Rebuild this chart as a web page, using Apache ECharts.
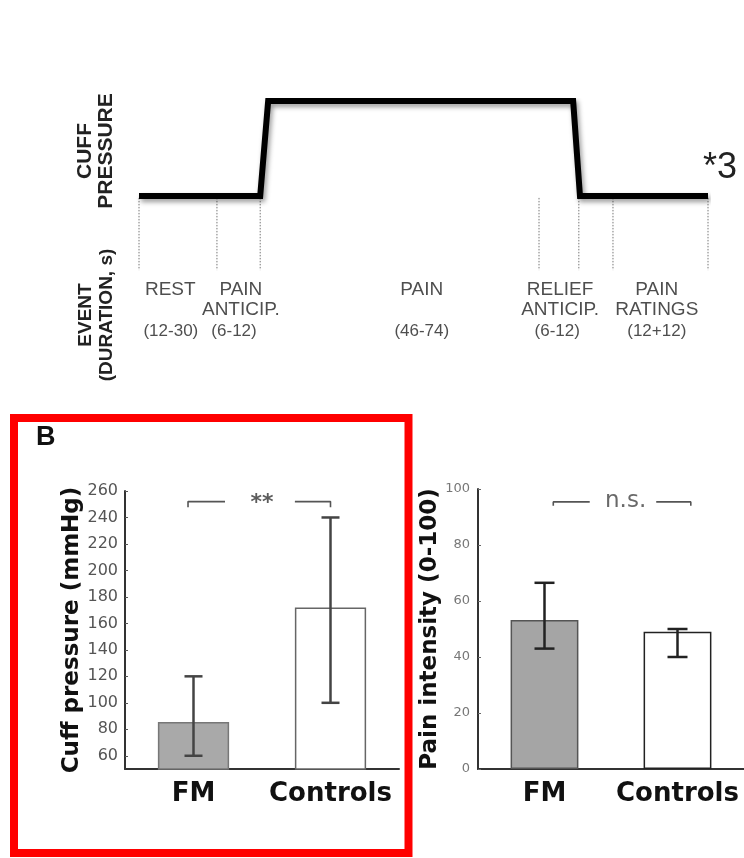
<!DOCTYPE html>
<html><head><meta charset="utf-8">
<script src="https://cdn.jsdelivr.net/npm/echarts@6/dist/echarts.min.js"></script>
<style>html,body{margin:0;padding:0;background:#fff}#c{width:744px;height:858px}</style>
</head><body><div id="c"></div>
<script>
// ---- Panel A: schematic cuff-pressure protocol (schematic time units 0-100, pressure low=0 / high=1)
const stepX = [0, 21.3, 22.7, 76.3, 77.5, 100];
const stepY = [0, 0, 1, 1, 0, 0];
const eventBoundaries = [0, 13.7, 21.3, 70.3, 77.3, 83.3, 100];
const eventNames = ['REST\n ', 'PAIN\nANTICIP.', 'PAIN\n ', 'RELIEF\nANTICIP.', 'PAIN\nRATINGS'];
const eventNameX = [5.5, 17.9, 49.7, 74.0, 91.0];
const eventDurations = ['(12-30)', '(6-12)', '(46-74)', '(6-12)', '(12+12)'];
const eventDurationX = [5.6, 16.7, 49.7, 73.5, 91.0];

// ---- Panel B
const groups = ['FM', 'Controls'];
const cuffMean = [85.5, 172];
const cuffLow = [60, 100];
const cuffHigh = [120, 240];
const cuffTicks = [60, 80, 100, 120, 140, 160, 180, 200, 220, 240, 260];
const painMean = [53.2, 49];
const painLow = [43, 40];
const painHigh = [66.5, 50];
const painTicks = [0, 20, 40, 60, 80, 100];

const DJ = 'DejaVu Sans';
const LS = 'Liberation Sans, Arial, sans-serif';

function errorBar(xi, yi, low, high, color, cap) {
  return {
    type: 'custom', xAxisIndex: xi, yAxisIndex: yi, z: 5, silent: true,
    data: low.map((l, i) => [i, l, high[i]]),
    encode: { x: 0, y: [1, 2] },
    renderItem(params, api) {
      const lo = api.coord([api.value(0), api.value(1)]);
      const hi = api.coord([api.value(0), api.value(2)]);
      const h = cap / 2;
      const style = { stroke: color, lineWidth: 2.5, fill: null };
      return { type: 'group', children: [
        { type: 'line', shape: { x1: lo[0], y1: lo[1], x2: hi[0], y2: hi[1] }, style },
        { type: 'line', shape: { x1: lo[0] - h, y1: lo[1], x2: lo[0] + h, y2: lo[1] }, style },
        { type: 'line', shape: { x1: hi[0] - h, y1: hi[1], x2: hi[0] + h, y2: hi[1] }, style }
      ]};
    }
  };
}
function seg(xi, yi, pts, color) {
  return { type: 'line', xAxisIndex: xi, yAxisIndex: yi, data: pts, symbol: 'none', silent: true,
    lineStyle: { color, width: 1.6 }, z: 4 };
}
function textPoint(xi, yi, pts, labelStyle) {
  return { type: 'scatter', xAxisIndex: xi, yAxisIndex: yi, symbolSize: 1, silent: true,
    itemStyle: { color: 'rgba(0,0,0,0)' },
    data: pts,
    label: Object.assign({ show: true, position: 'inside', formatter: '{b}', align: 'center', verticalAlign: 'middle' }, labelStyle) };
}

const chart = echarts.init(document.getElementById('c'), null, { renderer: 'canvas' });
const barItems = (vals, fills, borders) => vals.map((v, i) => ({ value: v, itemStyle: { color: fills[i], borderColor: borders[i], borderWidth: 1.5 } }));
const catAxis = (gi) => ({ gridIndex: gi, type: 'category', data: groups,
  axisLine: { onZero: false, lineStyle: { color: '#333', width: 2 } },
  axisTick: { inside: true, alignWithLabel: true, length: 3, lineStyle: { color: '#333' } },
  axisLabel: { interval: 0, fontFamily: DJ, fontWeight: 'bold', fontSize: 26, color: '#111', margin: 12 } });

chart.setOption({
  animation: false,
  backgroundColor: '#fff',
  grid: [
    { left: 139, width: 569, top: 101, height: 247 },
    { left: 125, width: 274, top: 491, height: 278 },
    { left: 478, width: 272, top: 489, height: 280 }
  ],
  xAxis: [
    { gridIndex: 0, type: 'value', min: 0, max: 100, show: false },
    catAxis(1),
    catAxis(2),
    { gridIndex: 1, type: 'value', min: -0.5, max: 1.5, show: false },
    { gridIndex: 2, type: 'value', min: -0.5, max: 1.5, show: false }
  ],
  yAxis: [
    { gridIndex: 0, type: 'value', min: -1.6, max: 1, show: false },
    { gridIndex: 1, type: 'value', min: 50, max: 260,
      axisLine: { show: true, onZero: false, lineStyle: { color: '#333', width: 2 } },
      axisTick: { show: true, inside: true, length: 3, customValues: cuffTicks, lineStyle: { color: '#555' } },
      axisLabel: { customValues: cuffTicks, fontFamily: DJ, fontSize: 16, color: '#555', margin: 7 },
      splitLine: { show: false },
      name: 'Cuff pressure (mmHg)', nameLocation: 'middle', nameRotate: 90, nameGap: 40,
      nameTextStyle: { fontFamily: DJ, fontWeight: 'bold', fontSize: 23, color: '#111' } },
    { gridIndex: 2, type: 'value', min: 0, max: 100, interval: 20,
      axisLine: { show: true, onZero: false, lineStyle: { color: '#333', width: 2 } },
      axisTick: { show: true, inside: true, length: 3, customValues: painTicks, lineStyle: { color: '#666' } },
      axisLabel: { customValues: painTicks, fontFamily: DJ, fontSize: 13, color: '#777', margin: 8 },
      splitLine: { show: false },
      name: 'Pain intensity (0-100)', nameLocation: 'middle', nameRotate: 90, nameGap: 36,
      nameTextStyle: { fontFamily: DJ, fontWeight: 'bold', fontSize: 23, color: '#111' } }
  ],
  series: [
    // Panel A step line
    { type: 'line', xAxisIndex: 0, yAxisIndex: 0, symbol: 'none', silent: true, z: 6,
      data: stepX.map((x, i) => [x, stepY[i]]),
      lineStyle: { color: '#000', width: 6, join: 'miter', cap: 'butt',
        shadowColor: 'rgba(0,0,0,0.4)', shadowBlur: 5, shadowOffsetX: 2, shadowOffsetY: 3 } },
    // event boundaries (dotted)
    { type: 'custom', xAxisIndex: 0, yAxisIndex: 0, silent: true, z: 3,
      data: eventBoundaries.map(x => [x]),
      renderItem(params, api) {
        const a = api.coord([api.value(0), -0.02]);
        const b = api.coord([api.value(0), -0.78]);
        return { type: 'line', shape: { x1: a[0], y1: a[1], x2: b[0], y2: b[1] },
          style: { stroke: '#777', lineWidth: 1, lineDash: [1.5, 1.5] } };
      } },
    textPoint(0, 0, eventNames.map((n, i) => ({ name: n, value: [eventNameX[i], -1.095] })),
      { fontFamily: LS, fontSize: 19, lineHeight: 20, color: '#222' }),
    textPoint(0, 0, eventDurations.map((n, i) => ({ name: n, value: [eventDurationX[i], -1.42] })),
      { fontFamily: LS, fontSize: 17, color: '#222' }),
    // Panel B left: cuff pressure
    { type: 'bar', xAxisIndex: 1, yAxisIndex: 1, barWidth: '52%', silent: true,
      data: barItems(cuffMean, ['#a9a9a9', '#ffffff'], ['#777', '#666']) },
    errorBar(1, 1, cuffLow, cuffHigh, '#444', 18),
    seg(3, 1, [[-0.04, 247.7], [-0.04, 252], [0.23, 252]], '#555'),
    seg(3, 1, [[0.74, 252], [1.0, 252], [1.0, 247.7]], '#555'),
    textPoint(3, 1, [{ name: '**', value: [0.5, 250.5] }], { fontFamily: DJ, fontWeight: 'bold', fontSize: 22, color: '#333' }),
    // Panel B right: pain intensity
    { type: 'bar', xAxisIndex: 2, yAxisIndex: 2, barWidth: '51%', silent: true,
      data: barItems(painMean, ['#a5a5a5', '#ffffff'], ['#555', '#222']) },
    errorBar(2, 2, painLow, painHigh, '#222', 20),
    seg(4, 2, [[0.066, 94], [0.066, 95.4], [0.34, 95.4]], '#555'),
    seg(4, 2, [[0.84, 95.4], [1.1, 95.4], [1.1, 94]], '#555'),
    textPoint(4, 2, [{ name: 'n.s.', value: [0.61, 95.8] }], { fontFamily: DJ, fontSize: 23, color: '#444' })
  ],
  graphic: [
    { type: 'rect', shape: { x: 14, y: 418, width: 394.5, height: 435 },
      style: { fill: 'none', stroke: '#ff0000', lineWidth: 8 }, z: 100 },
    { type: 'text', x: 36, y: 438, style: { text: 'B', font: 'bold 27px ' + LS, fill: '#111', align: 'left', verticalAlign: 'middle' } },
    { type: 'text', x: 96, y: 151, rotation: Math.PI / 2,
      style: { text: 'CUFF\nPRESSURE', font: 'bold 21px ' + LS, lineHeight: 21, fill: '#222', align: 'center', verticalAlign: 'middle' } },
    { type: 'text', x: 96, y: 315, rotation: Math.PI / 2,
      style: { text: 'EVENT\n(DURATION, s)', font: 'bold 19px ' + LS, lineHeight: 21, fill: '#222', align: 'center', verticalAlign: 'middle' } },
    { type: 'text', x: 703, y: 168, style: { text: '*3', font: '36px ' + LS, fill: '#222', align: 'left', verticalAlign: 'middle' } }
  ]
});
</script></body></html>
